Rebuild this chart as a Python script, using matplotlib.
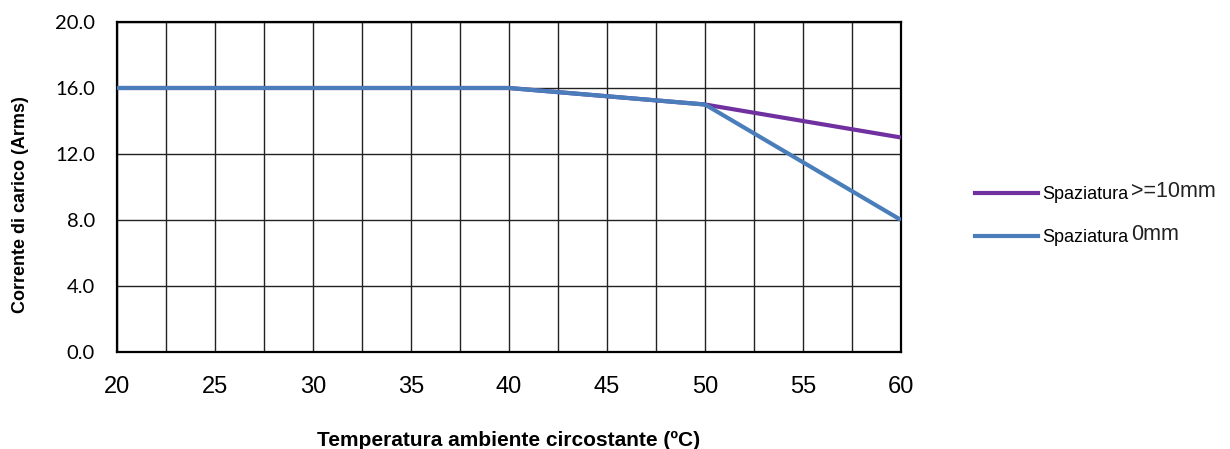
import matplotlib.pyplot as plt
from matplotlib.lines import Line2D
import numpy as np

# Data
temp = [20, 40, 50, 60]
spacing_10mm = [16.0, 16.0, 15.0, 13.0]
spacing_0mm = [16.0, 16.0, 15.0, 8.0]
legend_prefix = ['Spaziatura', 'Spaziatura']
legend_suffix = ['>=10mm', '0mm']
purple = '#7030a0'
blue = '#4a7ebb'

fig = plt.figure(figsize=(12.3, 4.49), dpi=100)
ax = fig.add_axes([117 / 1230, 1 - 352 / 449, 784 / 1230, 330 / 449])

ax.plot(temp, spacing_10mm, color=purple, lw=3.0, solid_capstyle='butt', zorder=3)
ax.plot(temp, spacing_0mm, color=blue, lw=3.0, solid_capstyle='butt', zorder=4)

ax.set_xlim(20, 60)
ax.set_ylim(0, 20)
ax.set_xticks(np.arange(20, 61, 5))
ax.set_xticks(np.arange(20, 61, 2.5), minor=True)
ax.set_yticks(np.arange(0, 20.1, 4))
ax.set_yticklabels([f'{v:.1f}' for v in np.arange(0, 20.1, 4)])
ax.grid(True, which='both', axis='x', color='#222222', lw=1.0)
ax.grid(True, which='major', axis='y', color='#222222', lw=1.0)
ax.tick_params(which='both', length=0)
ax.tick_params(axis='y', pad=16, labelsize=14.5)
ax.tick_params(axis='x', pad=17, labelsize=17)
for lab in ax.get_yticklabels():
    lab.set_family('Lato')
for lab in ax.get_xticklabels():
    lab.set_family(['Liberation Sans Narrow', 'Liberation Sans'])
for s in ax.spines.values():
    s.set_linewidth(1.6)
    s.set_color('black')

ax.set_xlabel('Temperatura ambiente circostante (ºC)', family='Liberation Sans',
              fontsize=15, fontweight='bold', labelpad=24)
ax.set_ylabel('Corrente di carico (Arms)', family='Liberation Sans',
              fontsize=13, fontweight='bold')
ax.yaxis.set_label_coords(-0.112, 0.447)

handles = [Line2D([], [], color=purple, lw=3.0),
           Line2D([], [], color=blue, lw=3.0)]
leg = ax.legend(handles, legend_prefix, loc='upper left',
                bbox_to_anchor=(975 / 1230, 1 - 186 / 449),
                bbox_transform=fig.transFigure, frameon=False,
                prop={'family': 'Liberation Sans', 'size': 13},
                handlelength=3.5, handletextpad=0.2, labelspacing=1.45,
                borderpad=0, borderaxespad=0)

fig.canvas.draw()
inv = fig.transFigure.inverted()
for t, suffix in zip(leg.get_texts(), legend_suffix):
    bb = t.get_window_extent()
    x, y = inv.transform((bb.x1 + 3, bb.y0))
    fig.text(x, y + 0.002, suffix, family='Liberation Sans', fontsize=15.5,
             color='#222222', va='bottom', ha='left')

fig.savefig('out.png', dpi=100)
